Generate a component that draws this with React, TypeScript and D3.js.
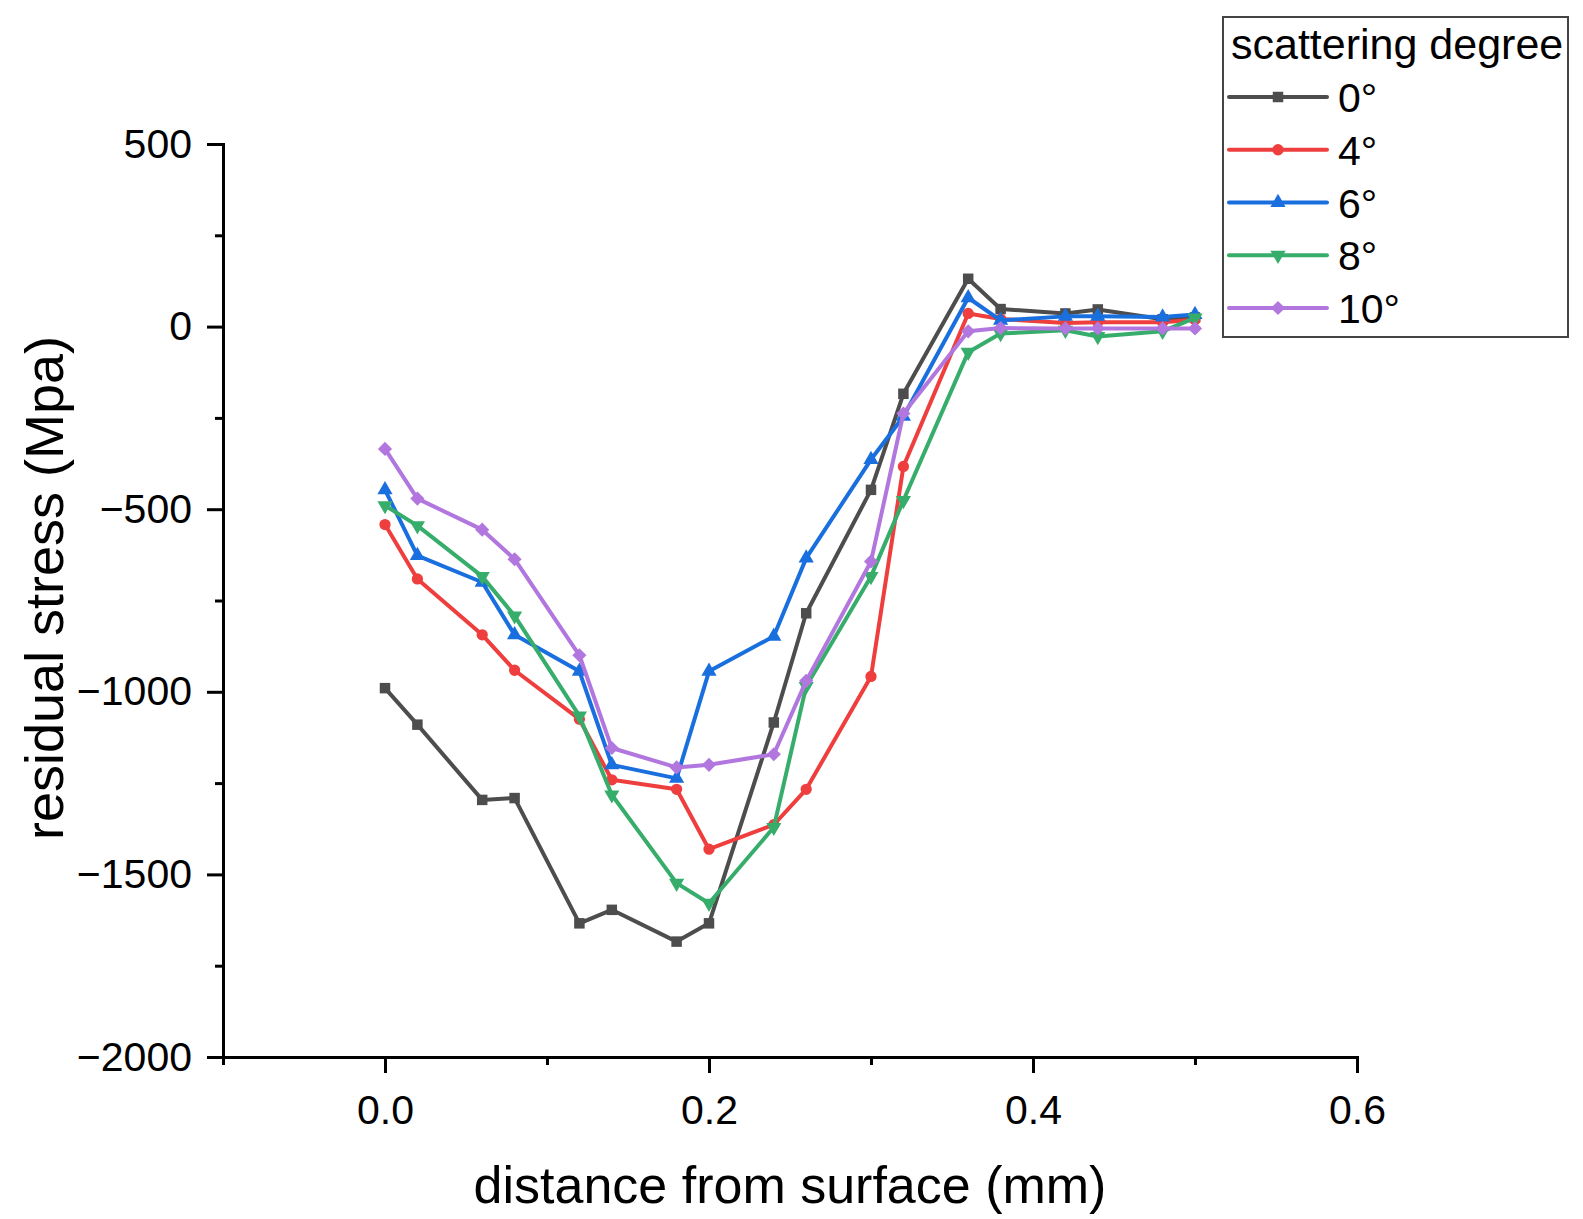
import { useEffect, useRef } from "react"
import * as d3 from "d3"

const depth = [0, 0.02, 0.06, 0.08, 0.12, 0.14, 0.18, 0.2, 0.24, 0.26, 0.3, 0.32, 0.36, 0.38, 0.42, 0.44, 0.48, 0.5]

const deg0 = [-990, -1090, -1296, -1291, -1634, -1597, -1684, -1634, -1084, -785, -447, -184, 131, 48, 36, 47, 20, 25]
const deg4 = [-542, -691, -844, -941, -1075, -1241, -1267, -1431, -1364, -1267, -958, -383, 36, 21, 10, 12, 12, 19]
const deg6 = [-447, -627, -700, -844, -944, -1200, -1237, -944, -848, -634, -364, -246, 79, 17, 28, 28, 26, 33]
const deg8 = [-490, -545, -684, -792, -1066, -1282, -1524, -1579, -1371, -985, -684, -476, -70, -19, -10, -27, -13, 24]
const deg10 = [-335, -471, -556, -637, -900, -1154, -1207, -1200, -1171, -970, -643, -238, -13, -4, -5, -5, -5, -5]

const seriesNames = ["0°", "4°", "6°", "8°", "10°"]
const seriesValues = [deg0, deg4, deg6, deg8, deg10]
const colors = ["#4d4d4d", "#ef3e3e", "#1a6fdf", "#37ad6b", "#b177de"]

const xMajor = [0, 0.2, 0.4, 0.6]
const xMinor = [-0.1, 0.1, 0.3, 0.5]
const yMajor = [500, 0, -500, -1000, -1500, -2000]
const yMinor = [250, -250, -750, -1250, -1750]

const FONT = "'Liberation Sans', Arial, Helvetica, sans-serif"

// marker shapes per series
function markerPath(i: number) {
  if (i === 0) return { d: d3.symbol(d3.symbolSquare, 110)(), rot: 0 }
  if (i === 1) return { d: d3.symbol(d3.symbolCircle, 100)(), rot: 0 }
  if (i === 2) return { d: d3.symbol(d3.symbolTriangle, 100)(), rot: 0 }
  if (i === 3) return { d: d3.symbol(d3.symbolTriangle, 100)(), rot: 180 }
  return { d: d3.symbol(d3.symbolSquare, 100)(), rot: 45 }
}

export default function App() {
  const svgRef = useRef<SVGSVGElement | null>(null)

  useEffect(() => {
    if (!svgRef.current) return
    const root = d3.select(svgRef.current)
    root.selectAll("*").remove()

    const left = 223
    const right = 1357
    const top = 144
    const bottom = 1057

    const x = d3.scaleLinear().domain([-0.1, 0.6]).range([left, right])
    const y = d3.scaleLinear().domain([-2000, 500]).range([bottom, top])

    // y axis
    const yAxis = root.append("g").attr("transform", `translate(${left},0)`)
    yAxis.call(
      d3.axisLeft(y).tickValues(yMajor).tickSize(16).tickSizeOuter(0).tickPadding(15).tickFormat(d3.format("d"))
    )
    yAxis
      .append("g")
      .call(d3.axisLeft(y).tickValues(yMinor).tickSize(8).tickSizeOuter(0).tickFormat(() => ""))
      .select(".domain")
      .remove()

    // x axis
    const xAxis = root.append("g").attr("transform", `translate(0,${bottom})`)
    xAxis.call(
      d3.axisBottom(x).tickValues(xMajor).tickSize(16).tickSizeOuter(0).tickPadding(22).tickFormat(d3.format(".1f"))
    )
    xAxis
      .append("g")
      .call(d3.axisBottom(x).tickValues(xMinor).tickSize(8).tickSizeOuter(0).tickFormat(() => ""))
      .select(".domain")
      .remove()

    root.selectAll(".domain").attr("stroke", "#000").attr("stroke-width", 3).attr("stroke-linecap", "square")
    root.selectAll(".tick line").attr("stroke", "#000").attr("stroke-width", 3)
    root.selectAll(".tick text").attr("font-family", FONT).attr("font-size", 41).attr("fill", "#000")

    // axis titles
    root
      .append("text")
      .attr("x", (left + right) / 2)
      .attr("y", 1203)
      .attr("text-anchor", "middle")
      .attr("font-family", FONT)
      .attr("font-size", 52)
      .text("distance from surface (mm)")

    root
      .append("text")
      .attr("transform", `translate(63,588) rotate(-90)`)
      .attr("text-anchor", "middle")
      .attr("font-family", FONT)
      .attr("font-size", 54)
      .text("residual stress (Mpa)")

    // series
    const line = d3
      .line<number>()
      .x((_, i) => x(depth[i]))
      .y((d) => y(d))

    seriesValues.forEach((vals, si) => {
      const g = root.append("g")
      g.append("path")
        .attr("d", line(vals) as string)
        .attr("fill", "none")
        .attr("stroke", colors[si])
        .attr("stroke-width", 4)
        .attr("stroke-linejoin", "round")
      const m = markerPath(si)
      g.selectAll("path.mk")
        .data(vals)
        .enter()
        .append("path")
        .attr("class", "mk")
        .attr("d", m.d as string)
        .attr("transform", (d, i) => `translate(${x(depth[i])},${y(d)}) rotate(${m.rot})`)
        .attr("fill", colors[si])
    })

    // legend
    const lg = root.append("g")
    lg.append("rect")
      .attr("x", 1223)
      .attr("y", 17)
      .attr("width", 345)
      .attr("height", 320)
      .attr("fill", "#fff")
      .attr("stroke", "#444")
      .attr("stroke-width", 2)
    lg.append("text")
      .attr("x", 1231)
      .attr("y", 59)
      .attr("font-family", FONT)
      .attr("font-size", 43)
      .text("scattering degree")

    const entryY = d3.scalePoint<string>().domain(seriesNames).range([97, 308])
    seriesNames.forEach((name, si) => {
      const cy = entryY(name) as number
      lg.append("line")
        .attr("x1", 1229)
        .attr("x2", 1327)
        .attr("y1", cy)
        .attr("y2", cy)
        .attr("stroke", colors[si])
        .attr("stroke-width", 4)
        .attr("stroke-linecap", "round")
      const m = markerPath(si)
      lg.append("path")
        .attr("d", m.d as string)
        .attr("transform", `translate(1278,${cy}) rotate(${m.rot})`)
        .attr("fill", colors[si])
      lg.append("text")
        .attr("x", 1338)
        .attr("y", cy + 15)
        .attr("font-family", FONT)
        .attr("font-size", 41)
        .text(name)
    })
  }, [])

  return (
    <svg
      ref={svgRef}
      width={1583}
      height={1219}
      style={{ position: "absolute", left: 0, top: 0, background: "#fff" }}
    ></svg>
  )
}
